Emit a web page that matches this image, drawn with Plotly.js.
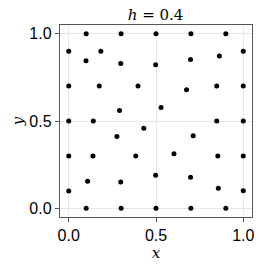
<!DOCTYPE html>
<html><head><meta charset="utf-8">
<script src="https://cdn.plot.ly/plotly-3.0.1.min.js"></script>
<style>html,body{margin:0;padding:0;background:#fff}#c{width:266px;height:266px}</style>
</head><body><div id="c"></div>
<script>
const xs = [0.1,0.3,0.5,0.7,0.9, 0.1,0.3,0.5,0.7,0.9,
  0,0.184,1, 0.099,0.298,0.498,0.698,0.863,
  0,0.175,0.397,0.675,0.848,1, 0.291,0.529,
  0,0.141,0.848,1, 0.430,0.276,0.713,
  0,0.139,0.384,0.603,0.854,1,
  0.108,0.298,0.498,0.698,0.857, 0,1];
const ys = [1,1,1,1,1, 0,0,0,0,0,
  0.9,0.9,0.9, 0.845,0.830,0.822,0.853,0.872,
  0.7,0.7,0.7,0.679,0.7,0.7, 0.560,0.577,
  0.5,0.5,0.5,0.5, 0.459,0.411,0.415,
  0.3,0.3,0.3,0.312,0.3,0.3,
  0.155,0.151,0.189,0.178,0.115, 0.099,0.1];
const tickVals = [0,0.5,1];
const tickText = ["0.0","0.5","1.0"];
const titleText = "<i>h</i> = 0.4";
const serif = "DejaVu Serif";

const axBase = {
  range:[-0.05,1.05], tickvals:tickVals, ticktext:tickText,
  showgrid:true, gridcolor:'#e8e8e8', gridwidth:1, zeroline:false,
  showline:true, mirror:true, linecolor:'#555', linewidth:1.2,
  ticks:'outside', ticklen:4, tickcolor:'#555', tickwidth:1,
  tickfont:{family:'Liberation Sans, Arial', size:16, color:'#000'}
};
Plotly.newPlot('c', [{
  x: xs, y: ys, type:'scatter', mode:'markers',
  marker:{color:'#000', size:5}
}], {
  width:266, height:266,
  margin:{l:60, r:14, t:25, b:49},
  paper_bgcolor:'#fff', plot_bgcolor:'#fff',
  showlegend:false,
  title:{text:titleText, x:0.585, xanchor:'center', y:0.944, yanchor:'middle',
    font:{family:serif, size:15, color:'#000'}},
  xaxis: Object.assign({}, axBase, {title:{text:'<i>x</i>', standoff:2,
    font:{family:serif, size:15, color:'#000'}}}),
  yaxis: Object.assign({}, axBase, {title:{text:'<i>y</i>', standoff:2,
    font:{family:serif, size:15, color:'#000'}}})
}, {staticPlot:true, displayModeBar:false});
</script></body></html>
